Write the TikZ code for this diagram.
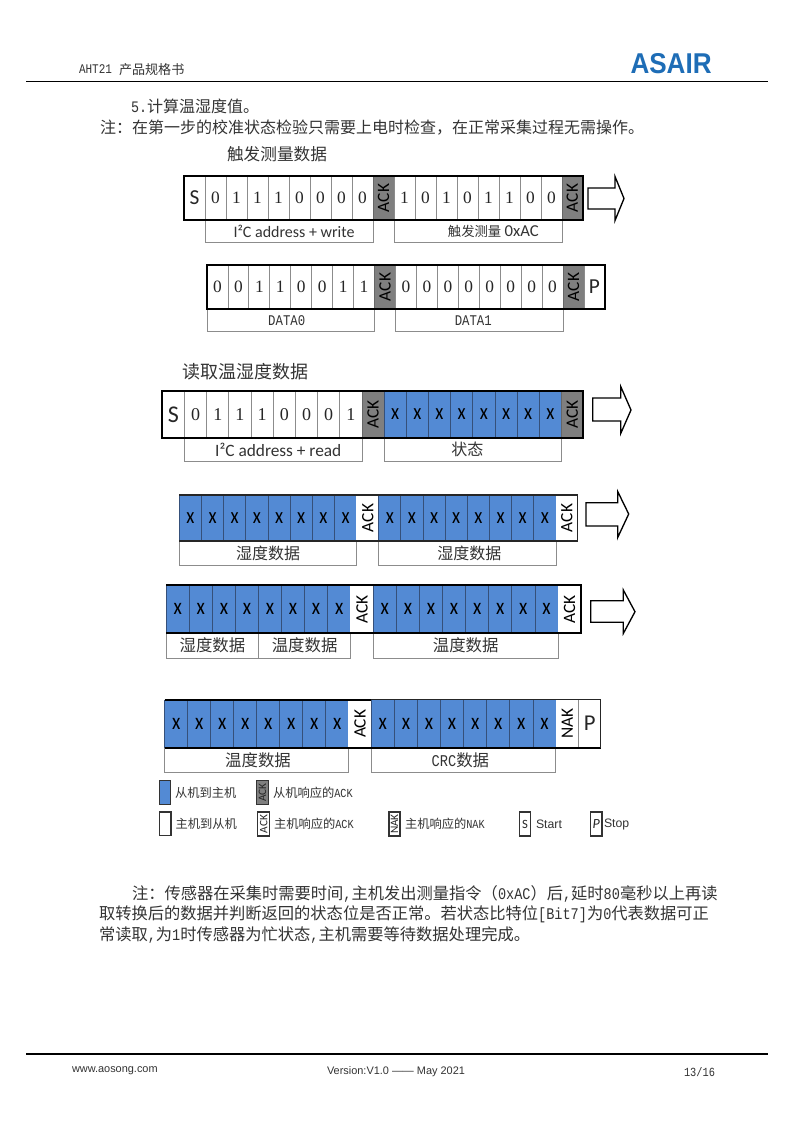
\documentclass[tikz,border=0pt]{standalone}
\usepackage{fontspec}
\usepackage{graphicx}
\setmainfont{Liberation Serif}
\newfontfamily\cjk{Noto Sans CJK SC}
\newfontfamily\carl{Carlito}
\newfontfamily\arial{Liberation Sans}
\newfontfamily\lat{Liberation Mono}[FakeStretch=0.8333]
\definecolor{bitblue}{HTML}{538AD4}
\definecolor{ackgray}{HTML}{7F7F7F}
\definecolor{blueedge}{HTML}{35507A}
\definecolor{whiteedge}{HTML}{8C8C8C}
\definecolor{inktext}{HTML}{333333}
\definecolor{logoblue}{HTML}{1E6DB6}
\newcommand\fs[1]{\fontsize{#1}{#1}\selectfont}
\newcommand\lowr[1]{\raisebox{-0.8pt}{#1}}
\newcommand\xg{\scalebox{0.82}[1]{x}}
\newcommand\fcolon{\char"FF1A\relax}
\newcommand\fcomma{\char"FF0C\relax}
\newcommand\flp{\char"FF08\relax}
\newcommand\frp{\char"FF09\relax}
\tikzset{
 base/.style={inner sep=0pt,outer sep=0pt,text=inktext},
 txt/.style={base,anchor=west},
 wcell/.style={base,draw=whiteedge,fill=white,line width=.6pt,text=black!85},
 bcell/.style={base,draw=blueedge,fill=bitblue,line width=.6pt,text=black},
 gcell/.style={base,draw=ackgray!80!black,fill=ackgray,line width=.6pt,text=black},
 ncell/.style={base,draw=white,fill=white,line width=.6pt,text=black},
 labelbox/.style={base,draw=whiteedge,fill=white,line width=.7pt},
 frameline/.style={draw=black,line width=1.5pt},
 thinframe/.style={draw=black!85,line width=.9pt},
 flowarrow/.style={draw=black,fill=white,line width=1pt,miter limit=10},
 legendbox/.style={base,draw=black!80,line width=.8pt,text=black!85},
 rulel/.style={draw=black,line width=1pt},
}
% \cell{name}{x1}{y1}{x2}{y2}{style}{text}
\newcommand\cell[7]{%
 \pgfmathsetmacro\cw{(#4-(#2))*0.75}\pgfmathsetmacro\ch{(#5-(#3))*0.75}%
 \node[#6,minimum width=\cw pt,minimum height=\ch pt] (#1) at ({(#2+#4)/2},{(#3+#5)/2}) {#7};}
% \bits{prefix}{x1}{x2}{y1}{y2}{style}{font}{list}
\newcommand\bits[8]{%
 \foreach \t [count=\i] in {#8}{%
  \pgfmathsetmacro\xa{#2+(\i-1)*(#3-#2)/8}\pgfmathsetmacro\xb{#2+\i*(#3-#2)/8}%
  \cell{#1\i}{\xa}{#4}{\xb}{#5}{#6}{#7\t}}}
\newcommand\rot[1]{\rotatebox{90}{\carl\fs{13}#1}}
\newcommand\flow[6]{%
 \foreach \ha/\hb/\tp in {#6}{\draw[flowarrow] (#1,#4) -- (#2,#4) -- (#2,\ha) -- (#3,\tp) -- (#2,\hb) -- (#2,#5) -- (#1,#5) -- cycle;}}
\begin{document}
\begin{tikzpicture}[x=0.75pt,y=-0.75pt]
\useasboundingbox (0,0) rectangle (793,1121);
\fill[white] (0,0) rectangle (793,1121);
% header
\node[txt,font=\lat\fs{9.9}] (hd1) at (79,69.5) {AHT21};
\node[txt,font=\cjk\fs{9.8}] (hd2) at (119,69.5) {产品规格书};
\node[txt,font=\arial\bfseries\fs{21.5},text=logoblue] (logo) at (630.5,64) {\scalebox{0.91}[1]{ASAIR}};
\coordinate (hl) at (26,81.5); \coordinate (hr) at (768,81.5);
\draw[rulel] (hl) -- (hr);
\node[txt,font=\cjk\fs{12}] (t1) at (131,106.5) {{\lat 5.}计算温湿度值。};
\node[txt,font=\cjk\fs{12}] (t2) at (100,127.5) {注\fcolon 在第一步的校准状态检验只需要上电时检查\fcomma 在正常采集过程无需操作。};
\node[txt,font=\cjk\fs{12.5}] (t3) at (227,154) {触发测量数据};
% row 1
\cell{l1a}{205}{220}{373}{242}{labelbox}{\hspace*{7.5pt}\carl\fs{12}I²C address + write}
\cell{l1b}{394}{220}{562}{242}{labelbox}{\hspace*{23pt}{\cjk\fs{10}触发测量} {\carl\fs{12.5}0xAC}}
\cell{r1s}{184}{176}{205}{220}{wcell}{\carl\fs{16}S}
\bits{r1a}{205}{373}{176}{220}{wcell}{\fs{13}}{0,1,1,1,0,0,0,0}
\cell{r1k}{373}{176}{394}{220}{gcell}{\rot{ACK}}
\bits{r1b}{394}{562}{176}{220}{wcell}{\fs{13}}{1,0,1,0,1,1,0,0}
\cell{r1l}{562}{176}{582.5}{220}{gcell}{\rot{ACK}}
\draw[frameline] (r1s.north west) rectangle (r1l.south east);
\flow{588}{615}{624}{188}{209}{176.5/220.5/198.5}
% row 2
\cell{l2a}{207}{309}{374.5}{331.5}{labelbox}{\hspace*{-6pt}\lat\fs{11.1}DATA0}
\cell{l2b}{395.5}{309}{563}{331.5}{labelbox}{\hspace*{-9pt}\lat\fs{11.1}DATA1}
\bits{r2a}{207}{374.5}{265}{309}{wcell}{\fs{13}}{0,0,1,1,0,0,1,1}
\cell{r2k}{374.5}{265}{395.5}{309}{gcell}{\rot{ACK}}
\bits{r2b}{395.5}{563}{265}{309}{wcell}{\fs{13}}{0,0,0,0,0,0,0,0}
\cell{r2l}{563}{265}{584}{309}{gcell}{\rot{ACK}}
\cell{r2p}{584}{265}{605}{309}{wcell}{\carl\fs{16}P}
\draw[frameline] (r2a1.north west) rectangle (r2p.south east);
% row 3
\node[txt,font=\cjk\fs{13.5}] (t4) at (182,372) {读取温湿度数据};
\cell{l3a}{184.5}{438}{362}{461.5}{labelbox}{\hspace*{7.5pt}\carl\fs{13}I²C address + read}
\cell{l3b}{384}{438}{561.5}{461.5}{labelbox}{\hspace*{-8pt}\cjk\fs{12}\lowr{状态}}
\cell{r3s}{162.3}{391}{184.5}{437.7}{wcell}{\carl\fs{18}S}
\bits{r3a}{184.5}{362}{391}{437.7}{wcell}{\fs{13.5}}{0,1,1,1,0,0,0,1}
\cell{r3k}{362}{391}{384}{437.7}{gcell}{\rot{ACK}}
\bits{r3b}{384}{561.5}{391}{437.7}{bcell}{\carl\fs{17}}{\xg,\xg,\xg,\xg,\xg,\xg,\xg,\xg}
\cell{r3l}{561.5}{391}{583}{437.7}{gcell}{\rot{ACK}}
\draw[frameline] (r3s.north west) rectangle (r3l.south east);
\flow{592.7}{620.7}{631}{398}{421}{386.5/433.5/410}
% row 4
\cell{l4a}{179.3}{541}{356.7}{565.5}{labelbox}{\cjk\fs{12}\lowr{湿度数据}}
\cell{l4b}{378.7}{541}{556}{565.5}{labelbox}{\hspace*{3pt}\cjk\fs{12}\lowr{湿度数据}}
\bits{r4a}{179.3}{356.7}{495}{541}{bcell}{\carl\fs{17}}{\xg,\xg,\xg,\xg,\xg,\xg,\xg,\xg}
\cell{r4k}{356.7}{495}{378.7}{541}{ncell}{\rot{ACK}}
\bits{r4b}{378.7}{556}{495}{541}{bcell}{\carl\fs{17}}{\xg,\xg,\xg,\xg,\xg,\xg,\xg,\xg}
\cell{r4l}{556}{495}{577.7}{541}{ncell}{\rot{ACK}}
\draw[thinframe] (r4a1.north west) -- (r4l.north east) -- (r4l.south east) -- (r4a1.south west);
\flow{586}{617.7}{628.7}{502.7}{526}{491.5/537.5/514}
% row 5
\cell{l5a}{166.3}{633.3}{258.5}{658}{labelbox}{\cjk\fs{12.3}\lowr{湿度数据}}
\cell{l5b}{258.5}{633.3}{350.7}{658}{labelbox}{\cjk\fs{12.3}\lowr{温度数据}}
\cell{l5c}{373.3}{633.3}{558}{658}{labelbox}{\cjk\fs{12.3}\lowr{温度数据}}
\bits{r5a}{166.3}{350.7}{585}{633.3}{bcell}{\carl\fs{17.5}}{\xg,\xg,\xg,\xg,\xg,\xg,\xg,\xg}
\cell{r5k}{350.7}{585}{373.3}{633.3}{ncell}{\rot{ACK}}
\bits{r5b}{373.3}{558}{585}{633.3}{bcell}{\carl\fs{17.5}}{\xg,\xg,\xg,\xg,\xg,\xg,\xg,\xg}
\cell{r5l}{558}{585}{581}{633.3}{ncell}{\rot{ACK}}
\draw[frameline] (r5a1.north west) -- (r5l.north east) -- (r5l.south east) -- (r5a1.south west);
\flow{590.7}{623.3}{635}{600.7}{622.3}{590/633.5/611.7}
% row 6
\cell{l6a}{164.7}{748}{348.7}{772.5}{labelbox}{\hspace*{2pt}\cjk\fs{12.3}\lowr{温度数据}}
\cell{l6b}{371.3}{748}{555.5}{772.5}{labelbox}{\hspace*{-4.5pt}\lowr{{\lat\fs{12.3}CRC}\cjk\fs{12.3}数据}}
\bits{r6a}{164.7}{348.7}{700}{747.7}{bcell}{\carl\fs{17.5}}{\xg,\xg,\xg,\xg,\xg,\xg,\xg,\xg}
\cell{r6k}{348.7}{700}{371.3}{747.7}{ncell}{\rot{ACK}}
\bits{r6b}{371.3}{556}{699.5}{747.7}{bcell}{\carl\fs{17.5}}{\xg,\xg,\xg,\xg,\xg,\xg,\xg,\xg}
\cell{r6n}{556}{699.5}{578.7}{747.7}{ncell}{\rot{NAK}}
\cell{r6p}{578.7}{699.5}{600.7}{747.7}{wcell}{\carl\fs{17}P}
\draw[frameline] (r6a1.north west) -- (r6k.north east);
\draw[frameline] (r6a1.south west) -- (r6p.south east);
\draw[thinframe] (r6b1.north west) -- (r6p.north east) -- (r6p.south east);
% legend
\cell{k1}{159.3}{780.7}{170.7}{804.3}{legendbox,fill=bitblue}{}
\node[txt,font=\cjk\fs{9.2}] (k1t) at (175,793) {从机到主机};
\cell{k2}{256.7}{780.7}{268.3}{804.3}{legendbox,fill=ackgray}{\rotatebox{90}{\carl\fs{8.5}ACK}}
\node[txt,font=\cjk\fs{9.2}] (k2t) at (273,793) {从机响应的{\lat ACK}};
\cell{k3}{159.3}{812}{171}{835.7}{legendbox,fill=white}{}
\node[txt,font=\cjk\fs{9.2}] (k3t) at (175.5,824) {主机到从机};
\cell{k4}{257.7}{812}{269.7}{836}{legendbox,fill=white}{\rotatebox{90}{\carl\fs{8.5}ACK}}
\node[txt,font=\cjk\fs{9.2}] (k4t) at (274,824) {主机响应的{\lat ACK}};
\cell{k5}{389}{812}{400}{836}{legendbox,fill=white}{\rotatebox{90}{\carl\fs{8.5}NAK}}
\node[txt,font=\cjk\fs{9.2}] (k5t) at (405,824) {主机响应的{\lat NAK}};
\cell{k6}{519.3}{812}{530.7}{836}{legendbox,fill=white}{\carl\fs{9.5}S}
\node[txt,font=\arial\fs{9.2}] (k6t) at (536,824) {Start};
\cell{k7}{590.7}{812}{602}{836}{legendbox,fill=white}{\carl\itshape\fs{10.5}P}
\node[txt,font=\arial\fs{9.2}] (k7t) at (604,824) {Stop};
% note
\node[txt,font=\cjk\fs{12.2}] (n1) at (132,893.5) {注\fcolon 传感器在采集时需要时间{\lat ,}主机发出测量指令\flp{\lat 0xAC}\frp 后{\lat ,}延时{\lat 80}毫秒以上再读};
\node[txt,font=\cjk\fs{12.2}] (n2) at (99,914.5) {取转换后的数据并判断返回的状态位是否正常。若状态比特位{\lat [Bit7]}为{\lat 0}代表数据可正};
\node[txt,font=\cjk\fs{12.2}] (n3) at (99,935.5) {常读取{\lat ,}为{\lat 1}时传感器为忙状态{\lat ,}主机需要等待数据处理完成。};
% footer
\coordinate (fl) at (26,1054); \coordinate (fr) at (768,1054);
\draw[rulel] (fl) -- (fr);
\node[txt,font=\arial\fs{8.2}] (f1) at (72,1071) {www.aosong.com};
\node[txt,font=\arial\fs{8.2}] (f2) at (327,1072) {Version:V1.0 —— May 2021};
\node[txt,font=\lat\fs{9.3}] (f3) at (684,1072.5) {13/16};
\end{tikzpicture}
\end{document}
